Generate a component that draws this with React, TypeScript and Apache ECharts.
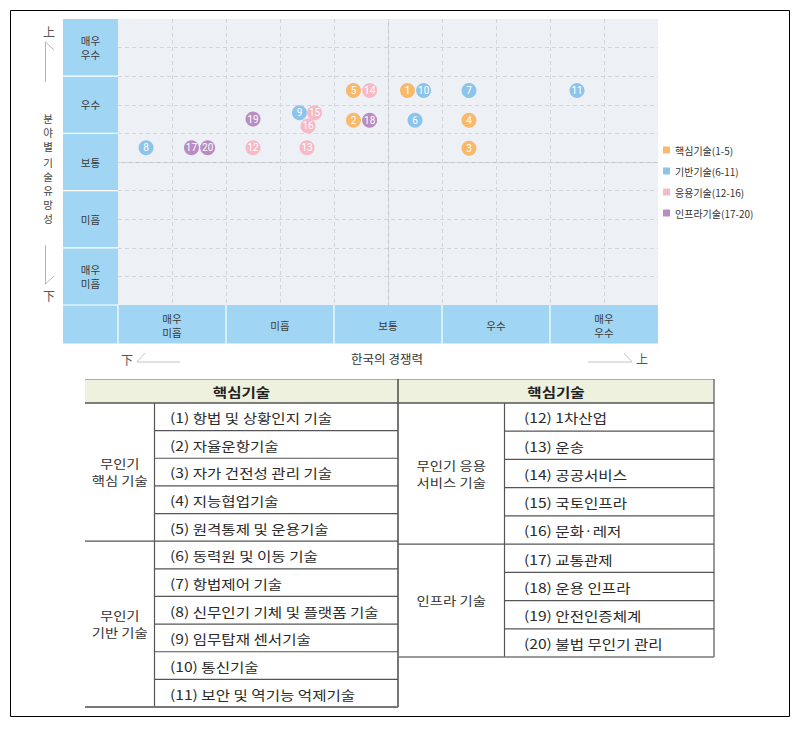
import React, { useEffect, useRef } from 'react';
import * as echarts from 'echarts';

// ---------- data ----------
const levelLabels = ['매우\n미흡', '미흡', '보통', '우수', '매우\n우수'];

const seriesNames = ['핵심기술(1-5)', '기반기술(6-11)', '응용기술(12-16)', '인프라기술(17-20)'];
const seriesColors = ['#F8B96D', '#8DC4EC', '#F6B9C6', '#B98CC2'];

const coreIds = [1, 2, 3, 4, 5];
const baseIds = [6, 7, 8, 9, 10, 11];
const appIds = [12, 13, 14, 15, 16];
const infraIds = [17, 18, 19, 20];

// 한국의 경쟁력 (x), tech 1..20  (1 = 매우 미흡 ... 5 = 매우 우수)
const competitiveness = [3.18, 2.68, 3.75, 3.75, 2.68, 3.25, 3.75, 0.76, 2.18, 3.33, 4.75, 1.75, 2.25, 2.83, 2.32, 2.26, 1.18, 2.83, 1.75, 1.33];
// 분야별 기술유망성 (y), tech 1..20
const prospect = [4.25, 3.73, 3.24, 3.73, 4.25, 3.73, 4.25, 3.25, 3.86, 4.25, 4.25, 3.25, 3.25, 4.25, 3.86, 3.63, 3.25, 3.73, 3.75, 3.25];

const tableHeader = '핵심기술';
const coreGroupLabel = '무인기\n핵심 기술';
const baseGroupLabel = '무인기\n기반 기술';
const appGroupLabel = '무인기 응용\n서비스 기술';
const infraGroupLabel = '인프라 기술';
const coreTechNames = ['(1) 항법 및 상황인지 기술', '(2) 자율운항기술', '(3) 자가 건전성 관리 기술', '(4) 지능협업기술', '(5) 원격통제 및 운용기술'];
const baseTechNames = ['(6) 동력원 및 이동 기술', '(7) 항법제어 기술', '(8) 신무인기 기체 및 플랫폼 기술', '(9) 임무탑재 센서기술', '(10) 통신기술', '(11) 보안 및 역기능 억제기술'];
const appTechNames = ['(12) 1차산업', '(13) 운송', '(14) 공공서비스', '(15) 국토인프라', '(16) 문화·레저'];
const infraTechNames = ['(17) 교통관제', '(18) 운용 인프라', '(19) 안전인증체계', '(20) 불법 무인기 관리'];

const xTitle = '한국의 경쟁력';
const yTitleA = '분\n야\n별';
const yTitleB = '기\n술\n유\n망\n성';

// ---------- layout ----------
const FONT = '"Noto Sans CJK KR", "Noto Sans", sans-serif';
const GL = 118, GT = 19, GW = 540, GH = 286;
const LABEL_X = 63;
const BAND_H = 39;
const BLUE = '#A0D6F4';
const ROW_H = GH / 5;
const COL_W = GW / 5;

function line(x1: number, y1: number, x2: number, y2: number, stroke: string, lineWidth = 1) {
  return { type: 'line', silent: true, shape: { x1, y1, x2, y2 }, style: { stroke, lineWidth } };
}
function poly(points: number[][], stroke: string) {
  return { type: 'polyline', silent: true, shape: { points }, style: { stroke, lineWidth: 1, fill: 'none' } };
}
function txt(x: number, y: number, text: string, o: any = {}) {
  const { scaleX, ...style } = o;
  return {
    type: 'text', silent: true, x, y, scaleX: scaleX ?? 1,
    style: { text, fontFamily: FONT, fontSize: 12, fill: '#333', align: 'center', verticalAlign: 'middle', ...style },
  };
}

function buildGraphics() {
  const g: any[] = [];
  // outer frame
  g.push({ type: 'rect', silent: true, shape: { x: 10.5, y: 10.5, width: 779, height: 706 }, style: { fill: 'none', stroke: '#000', lineWidth: 1 } });
  // blue label cells
  g.push({ type: 'rect', silent: true, shape: { x: LABEL_X, y: GT, width: GL - LABEL_X, height: GH + BAND_H }, style: { fill: BLUE } });
  g.push({ type: 'rect', silent: true, shape: { x: GL, y: GT + GH, width: GW, height: BAND_H }, style: { fill: BLUE } });
  for (let k = 1; k <= 5; k++) g.push(line(LABEL_X, GT + k * ROW_H, GL, GT + k * ROW_H, '#fff', 1.2));
  for (let k = 0; k < 5; k++) g.push(line(GL + k * COL_W, GT + GH, GL + k * COL_W, GT + GH + BAND_H, '#fff', 1.2));
  g.push(line(LABEL_X, GT + GH + BAND_H, GL + GW, GT + GH + BAND_H, '#fff', 1));

  // y title and arrows
  g.push(txt(48, 111, yTitleA, { fontSize: 10.5, lineHeight: 14, verticalAlign: 'top', fill: '#444' }));
  g.push(txt(48, 155, yTitleB, { fontSize: 10.5, lineHeight: 14, verticalAlign: 'top', fill: '#444' }));
  g.push(txt(49, 31, '上', { fontSize: 12, fill: '#555' }));
  g.push(poly([[54, 50], [45.5, 42], [45.5, 82]], '#b5b5b5'));
  g.push(txt(49, 295, '下', { fontSize: 12, fill: '#555' }));
  g.push(poly([[45.5, 245], [45.5, 284], [54, 276]], '#b5b5b5'));

  // x title and arrows
  g.push(txt(387, 358, xTitle, { fontSize: 12.5, fill: '#333' }));
  g.push(txt(127, 359, '下', { fontSize: 12, fill: '#555' }));
  g.push(poly([[145, 353], [137, 362], [180, 362]], '#c5c5c5'));
  g.push(poly([[588, 362], [632, 362], [624, 353]], '#c5c5c5'));
  g.push(txt(642, 358, '上', { fontSize: 12, fill: '#555' }));

  // ---------- tables ----------
  const TOP = 379, HDR = 24;
  const LX0 = 85, LX1 = 154.5, LX2 = 398;
  const RX0 = 398, RX1 = 504.5, RX2 = 714;
  const lRows = [...coreTechNames, ...baseTechNames];
  const rRows = [...appTechNames, ...infraTechNames];
  const lBottom = 707, rBottom = 657;
  const lrh = (lBottom - TOP - HDR) / lRows.length;
  const rrh = (rBottom - TOP - HDR) / rRows.length;
  const LC = '#555';

  g.push({ type: 'rect', silent: true, shape: { x: LX0, y: TOP, width: RX2 - LX0, height: HDR }, style: { fill: '#EFF1DF' } });
  g.push(line(LX0, TOP + 0.5, RX2, TOP + 0.5, '#aaa', 1));
  g.push(line(LX0, TOP + HDR, RX2, TOP + HDR, LC, 1.3));
  g.push(txt((LX0 + LX2) / 2, TOP + HDR / 2, tableHeader, { fontSize: 13, fontWeight: 'bold', fill: '#222', scaleX: 1.2 }));
  g.push(txt((RX0 + RX2) / 2, TOP + HDR / 2, tableHeader, { fontSize: 13, fontWeight: 'bold', fill: '#222', scaleX: 1.2 }));

  // verticals
  g.push(line(LX2, TOP, LX2, lBottom, LC, 1.6));
  g.push(line(RX2, TOP, RX2, rBottom, LC, 1.2));
  g.push(line(LX1, TOP + HDR, LX1, lBottom, LC, 1.2));
  g.push(line(RX1, TOP + HDR, RX1, rBottom, LC, 1.2));

  // left rows
  lRows.forEach((name, i) => {
    const y0 = TOP + HDR + i * lrh;
    const yb = y0 + lrh;
    const isGroupEnd = i === coreTechNames.length - 1 || i === lRows.length - 1;
    g.push(line(isGroupEnd ? LX0 : LX1, yb, LX2, yb, i === lRows.length - 1 ? '#777' : LC, i === lRows.length - 1 ? 1.8 : 1.2));
    g.push(txt(170, y0 + lrh / 2 + 0.5, name, { fontSize: 13, align: 'left', fill: '#2a2a2a', scaleX: 1.2 }));
  });
  g.push(txt((LX0 + LX1) / 2, TOP + HDR + lrh * coreTechNames.length / 2, coreGroupLabel, { fontSize: 12.5, lineHeight: 17, fill: '#333', scaleX: 1.15 }));
  g.push(txt((LX0 + LX1) / 2, TOP + HDR + lrh * (coreTechNames.length + baseTechNames.length / 2), baseGroupLabel, { fontSize: 12.5, lineHeight: 17, fill: '#333', scaleX: 1.15 }));

  // right rows
  rRows.forEach((name, i) => {
    const y0 = TOP + HDR + i * rrh;
    const yb = y0 + rrh;
    const isGroupEnd = i === appTechNames.length - 1 || i === rRows.length - 1;
    g.push(line(isGroupEnd ? RX0 : RX1, yb, RX2, yb, i === rRows.length - 1 ? '#777' : LC, i === rRows.length - 1 ? 1.6 : 1.2));
    g.push(txt(524, y0 + rrh / 2 + 0.5, name, { fontSize: 13, align: 'left', fill: '#2a2a2a', scaleX: 1.2 }));
  });
  g.push(txt((RX0 + RX1) / 2, TOP + HDR + rrh * appTechNames.length / 2, appGroupLabel, { fontSize: 12.5, lineHeight: 17, fill: '#333', scaleX: 1.15 }));
  g.push(txt((RX0 + RX1) / 2, TOP + HDR + rrh * (appTechNames.length + infraTechNames.length / 2), infraGroupLabel, { fontSize: 12.5, lineHeight: 17, fill: '#333', scaleX: 1.15 }));

  return g;
}

function buildOption(): any {
  const groups = [coreIds, baseIds, appIds, infraIds];
  const labelFmt = (v: number) => (Number.isInteger(v) ? levelLabels[v - 1] : '');
  const series = groups.map((ids, gi) => ({
    type: 'scatter',
    name: seriesNames[gi],
    data: ids.map((id) => [competitiveness[id - 1], prospect[id - 1], id]),
    symbolSize: 15,
    itemStyle: { color: seriesColors[gi], opacity: 1 },
    label: {
      show: true, position: 'inside', formatter: (p: any) => String(p.value[2]),
      color: '#fff', fontSize: 10, fontFamily: 'Roboto, sans-serif',
    },
    z: 3,
    ...(gi === 0
      ? {
          markLine: {
            silent: true, symbol: 'none', label: { show: false },
            lineStyle: { color: '#c4c8cd', type: 'solid', width: 1 },
            data: [{ xAxis: 3 }, { yAxis: 3 }],
          },
        }
      : {}),
  }));

  const axisCommon = {
    type: 'value', min: 0.5, max: 5.5, interval: 0.5, z: 10,
    axisLine: { show: false }, axisTick: { show: false },
    splitLine: { show: true, showMinLine: false, showMaxLine: false, lineStyle: { color: '#d3d7dc', type: [4, 3], width: 1 } },
  };

  return {
    animation: false,
    backgroundColor: '#fff',
    textStyle: { fontFamily: FONT },
    grid: { left: GL, top: GT, width: GW, height: GH, show: true, backgroundColor: '#EDF1F6', borderWidth: 0, containLabel: false },
    xAxis: {
      ...axisCommon,
      axisLabel: { formatter: labelFmt, margin: 20, verticalAlign: 'middle', fontSize: 10.5, lineHeight: 14, color: '#3a3a3a', fontFamily: FONT },
    },
    yAxis: {
      ...axisCommon,
      axisLabel: { formatter: labelFmt, margin: 27.5, align: 'center', fontSize: 10.5, lineHeight: 14, color: '#3a3a3a', fontFamily: FONT },
    },
    legend: {
      orient: 'vertical', left: 663, top: 144, padding: 0,
      itemWidth: 7, itemHeight: 7, itemGap: 9, icon: 'rect',
      textStyle: { fontSize: 10, color: '#333', fontFamily: FONT, lineHeight: 12 },
      data: seriesNames,
      selectedMode: false,
    },
    graphic: { elements: buildGraphics() },
    series,
  };
}

export default function App() {
  const ref = useRef<HTMLDivElement>(null);
  useEffect(() => {
    if (!ref.current) return;
    const chart = echarts.init(ref.current, undefined, { renderer: 'svg' });
    chart.setOption(buildOption());
    return () => chart.dispose();
  }, []);
  return <div ref={ref} style={{ position: 'absolute', left: 0, top: 0, width: 805, height: 731, background: '#fff' }} />;
}
